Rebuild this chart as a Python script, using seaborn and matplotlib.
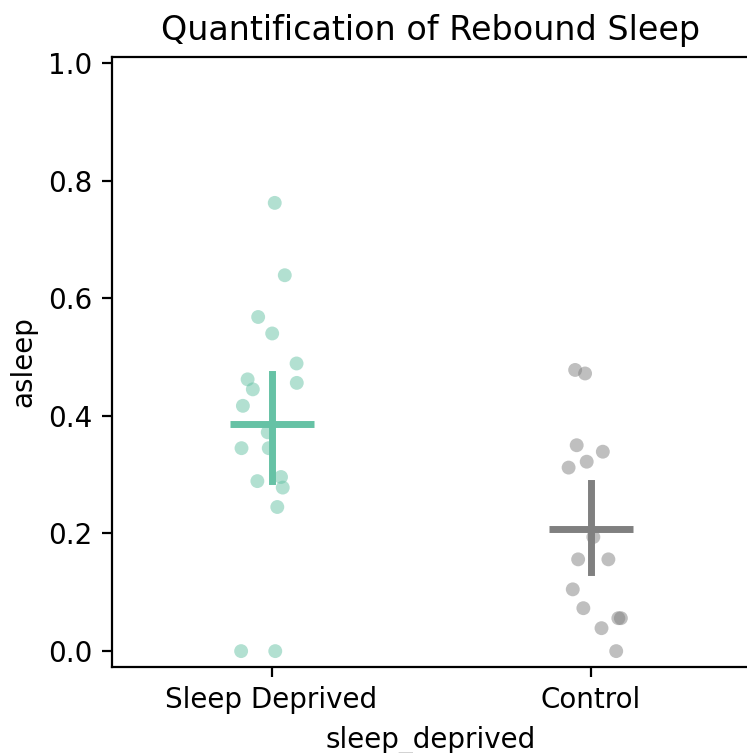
import numpy as np
import pandas as pd
import matplotlib
matplotlib.use("Agg")
import matplotlib.pyplot as plt
import seaborn as sns

# Fraction of time asleep per fly during the rebound window
sleep_deprived_vals = [0.762, 0.639, 0.568, 0.540, 0.489, 0.456, 0.462, 0.445, 0.417,
                       0.372, 0.345, 0.345, 0.296, 0.289, 0.278, 0.245, 0.0, 0.0]
control_vals = [0.478, 0.472, 0.350, 0.339, 0.322, 0.312, 0.194, 0.156, 0.156,
                0.105, 0.073, 0.056, 0.056, 0.039, 0.0]

groups = ["Sleep Deprived", "Control"]
group_colors = ["#66c2a5", "grey"]

df = pd.DataFrame({
    "sleep_deprived": [groups[0]] * len(sleep_deprived_vals) + [groups[1]] * len(control_vals),
    "asleep": sleep_deprived_vals + control_vals,
})
palette = dict(zip(groups, group_colors))

np.random.seed(3)

fig = plt.figure(figsize=(747 / 200, 753 / 200), dpi=200)
ax = fig.add_axes([112 / 747, 1 - 667 / 753, 638 / 747, (667 - 57) / 753])

sns.stripplot(data=df, x="sleep_deprived", y="asleep", hue="sleep_deprived",
              order=groups, hue_order=groups, palette=palette, alpha=0.5,
              size=5, linewidth=0, jitter=True, legend=False, ax=ax, zorder=1)

sns.pointplot(data=df, x="sleep_deprived", y="asleep", hue="sleep_deprived",
              order=groups, hue_order=groups, palette=palette,
              errorbar=("ci", 95), seed=1, linestyle="none", marker="_",
              markersize=30, markeredgewidth=2.5, err_kws={"linewidth": 2.5},
              legend=False, ax=ax)

ax.set_ylim(-0.027, 1.01)
ax.set_xlim(-0.5, 1.5)
ax.set_yticks([0.0, 0.2, 0.4, 0.6, 0.8, 1.0])
ax.set_title("Quantification of Rebound Sleep")
ax.set_xlabel("sleep_deprived")
ax.set_ylabel("asleep")

fig.savefig("out.png", dpi=200)
